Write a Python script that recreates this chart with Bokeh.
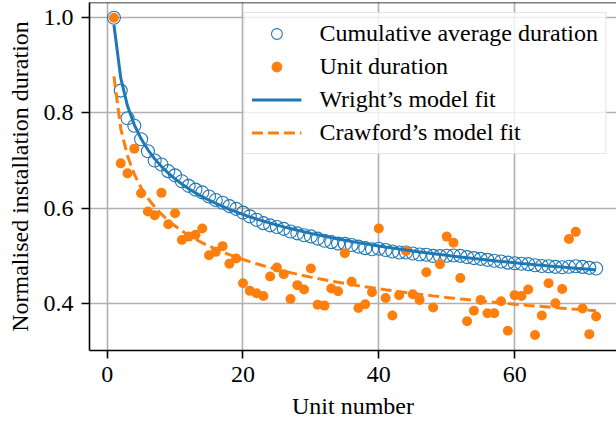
import numpy as np
from bokeh.plotting import figure
from bokeh.models import (Range1d, Span, Legend, LegendItem, FixedTicker,
                          PrintfTickFormatter, ColumnDataSource)
from bokeh.embed import file_html
from bokeh.resources import INLINE

# Normalised installation duration of each unit, in build order
unit_number = list(range(1, 73))
unit_duration = [
    1.000, 0.694, 0.673, 0.725, 0.631, 0.593, 0.585, 0.632, 0.566, 0.589,
    0.533, 0.540, 0.544, 0.557, 0.501, 0.508, 0.520, 0.483, 0.494, 0.442,
    0.426, 0.421, 0.415, 0.456, 0.475, 0.461, 0.409, 0.438, 0.429, 0.473,
    0.397, 0.395, 0.431, 0.425, 0.505, 0.445, 0.390, 0.398, 0.423, 0.557,
    0.411, 0.374, 0.417, 0.510, 0.419, 0.407, 0.465, 0.391, 0.482, 0.540,
    0.527, 0.453, 0.362, 0.384, 0.407, 0.379, 0.379, 0.404, 0.342, 0.417,
    0.415, 0.429, 0.333, 0.374, 0.442, 0.400, 0.430, 0.535, 0.550, 0.389,
    0.335, 0.372,
]

# Power-law learning-curve parameters: y = a * n ** b
wright_a, wright_b = 0.985, -0.173      # fitted to the cumulative average
crawford_a, crawford_b = 0.877, -0.193  # fitted to the unit durations

x_ticks = [0, 20, 40, 60]
y_ticks = [0.4, 0.6, 0.8, 1.0]

n = np.array(unit_number, dtype=float)
dur = np.array(unit_duration)
cum_avg = np.cumsum(dur) / n

src = ColumnDataSource(dict(
    n=n, dur=dur, cum=cum_avg,
    wright=wright_a * n ** wright_b,
    crawford=crawford_a * n ** crawford_b,
))

FONT = "Liberation Serif"
BLUE = "#1f77b4"
ORANGE = "#ff7f0e"

y_lo, y_hi = 0.3006, 1.0322
p = figure(width=616, height=425, output_backend="svg", toolbar_location=None,
           x_range=Range1d(-2.6, 75.0), y_range=Range1d(y_lo, y_hi),
           min_border_left=89, min_border_right=0, min_border_top=2,
           min_border_bottom=75)
p.outline_line_color = None
p.background_fill_color = "white"

r_cum = p.scatter("n", "cum", source=src, size=13, marker="circle",
                  fill_color=None, line_color=BLUE, line_width=1.1)
r_unit = p.scatter("n", "dur", source=src, size=10, marker="circle",
                   fill_color=ORANGE, line_color=ORANGE, line_width=0)
r_wright = p.line("n", "wright", source=src, line_color=BLUE, line_width=3)
r_craw = p.line("n", "crawford", source=src, line_color=ORANGE, line_width=3,
                line_dash="11 5")

# top spine of the frame
p.add_layout(Span(location=y_hi, dimension="width", line_color="black",
                  line_width=1.6))

p.xaxis.ticker = FixedTicker(ticks=x_ticks)
p.yaxis.ticker = FixedTicker(ticks=y_ticks)
p.xaxis.formatter = PrintfTickFormatter(format="%d")
p.yaxis.formatter = PrintfTickFormatter(format="%.1f")
p.xaxis.axis_label = "Unit number"
p.yaxis.axis_label = "Normalised installation duration"

for ax in (p.xaxis, p.yaxis):
    ax.axis_line_width = 1.6
    ax.axis_line_color = "black"
    ax.major_tick_line_width = 1.6
    ax.major_tick_line_color = "black"
    ax.major_tick_out = 8
    ax.major_tick_in = 0
    ax.minor_tick_line_color = None
    ax.major_label_text_font = FONT
    ax.major_label_text_font_size = "24px"
    ax.major_label_text_color = "black"
    ax.axis_label_text_font = FONT
    ax.axis_label_text_font_size = "24px"
    ax.axis_label_text_font_style = "normal"
    ax.axis_label_text_color = "black"
    ax.major_label_standoff = 8
    ax.axis_label_standoff = 8

p.grid.grid_line_color = "#b0b0b0"
p.grid.grid_line_width = 1.6

legend = Legend(items=[
    LegendItem(label="Cumulative average duration", renderers=[r_cum]),
    LegendItem(label="Unit duration", renderers=[r_unit]),
    LegendItem(label="Wright’s model fit", renderers=[r_wright]),
    LegendItem(label="Crawford’s model fit", renderers=[r_craw]),
], location="top_right")
legend.label_text_font = FONT
legend.label_text_font_size = "24px"
legend.label_text_color = "black"
legend.glyph_width = 50
legend.glyph_height = 27
legend.label_height = 27
legend.label_standoff = 18
legend.spacing = 6
legend.padding = 7
legend.margin = 10
legend.border_line_color = "#cccccc"
legend.border_line_width = 1.2
legend.background_fill_alpha = 0.8
p.add_layout(legend)

open("out.html", "w").write(file_html(p, INLINE))
